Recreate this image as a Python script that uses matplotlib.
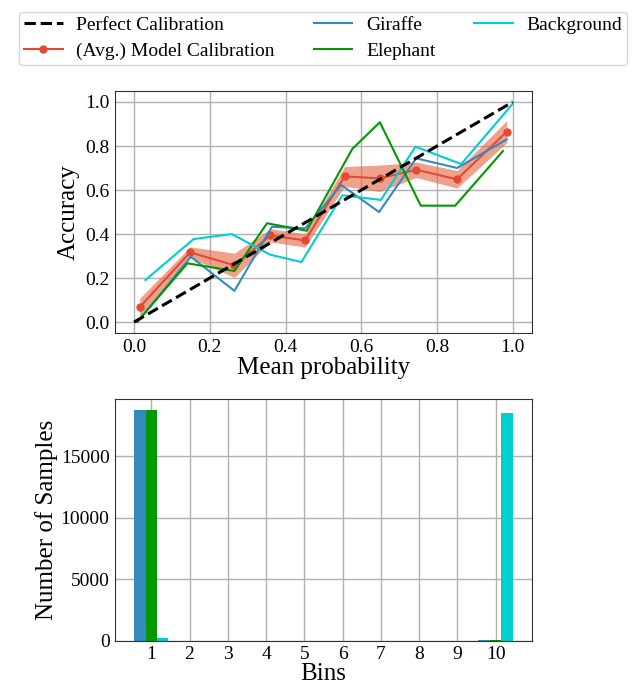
import numpy as np
import matplotlib
matplotlib.use('Agg')
from matplotlib import pyplot as plt

plt.rcParams['font.family'] = ['Liberation Serif', 'DejaVu Serif']

# calibration curves (mean probability, accuracy)
avg_x = [0.015, 0.148, 0.265, 0.36, 0.452, 0.556, 0.649, 0.745, 0.853, 0.984]
avg_y = [0.068, 0.317, 0.258, 0.394, 0.371, 0.662, 0.653, 0.692, 0.649, 0.865]
avg_err = [0.04, 0.025, 0.055, 0.03, 0.03, 0.045, 0.06, 0.035, 0.04, 0.05]

giraffe_x = [0.009, 0.15, 0.265, 0.364, 0.452, 0.547, 0.647, 0.745, 0.853, 0.984]
giraffe_y = [0.0, 0.297, 0.142, 0.433, 0.426, 0.623, 0.50, 0.744, 0.70, 0.83]

elephant_x = [0.009, 0.141, 0.265, 0.351, 0.456, 0.576, 0.649, 0.757, 0.848, 0.974]
elephant_y = [0.003, 0.267, 0.232, 0.449, 0.415, 0.786, 0.908, 0.529, 0.529, 0.777]

background_x = [0.03, 0.157, 0.258, 0.36, 0.442, 0.55, 0.652, 0.743, 0.864, 0.999]
background_y = [0.191, 0.377, 0.40, 0.306, 0.273, 0.576, 0.555, 0.797, 0.718, 0.99]

# samples per bin
bins = np.arange(1, 11)
giraffe_counts = [18750, 12, 8, 6, 5, 5, 6, 8, 12, 80]
elephant_counts = [18750, 12, 8, 6, 5, 5, 6, 8, 12, 80]
background_counts = [250, 10, 8, 6, 5, 5, 6, 8, 15, 18525]

red = '#E24A33'
blue = '#348ABD'
green = '#009900'
cyan = '#00CED1'

fig = plt.figure(figsize=(6.36, 6.84), dpi=100)
ax1 = fig.add_axes([0.181, 0.513, 0.655, 0.354])
ax2 = fig.add_axes([0.181, 0.063, 0.655, 0.354])

for ax in (ax1, ax2):
    ax.set_axisbelow(True)
    ax.grid(True, color='#b0b0b0', linewidth=1)
    for s in ax.spines.values():
        s.set_color('#333333')
    ax.tick_params(labelsize=14, length=0, pad=4)

h_perf, = ax1.plot([0, 1], [0, 1], '--', color='black', linewidth=2.2, label='Perfect Calibration', zorder=5)
lo = np.array(avg_y) - np.array(avg_err)
hi = np.array(avg_y) + np.array(avg_err)
ax1.fill_between(avg_x, lo, hi, color='#E5704F', alpha=0.65, linewidth=0)
h_avg, = ax1.plot(avg_x, avg_y, '-o', color=red, markersize=5, linewidth=1.5, label='(Avg.) Model Calibration')
h_g, = ax1.plot(giraffe_x, giraffe_y, color=blue, linewidth=1.5, label='Giraffe')
h_e, = ax1.plot(elephant_x, elephant_y, color=green, linewidth=1.5, label='Elephant')
h_b, = ax1.plot(background_x, background_y, color=cyan, linewidth=1.5, label='Background')
ax1.set_xlim(-0.05, 1.05)
ax1.set_ylim(-0.05, 1.05)
ax1.set_xticks(np.arange(0, 1.01, 0.2))
ax1.set_yticks(np.arange(0, 1.01, 0.2))
ax1.set_xlabel('Mean probability', fontsize=18, labelpad=1)
ax1.set_ylabel('Accuracy', fontsize=18, labelpad=4)

w = 0.3
ax2.bar(bins - w, giraffe_counts, width=w, color=blue)
ax2.bar(bins, elephant_counts, width=w, color=green)
ax2.bar(bins + w, background_counts, width=w, color=cyan)
ax2.set_xticks(bins)
ax2.set_xlabel('Bins', fontsize=18, labelpad=0)
ax2.set_ylabel('Number of Samples', fontsize=18, labelpad=2)

fig.legend([h_perf, h_avg, h_g, h_e, h_b],
           ['Perfect Calibration', '(Avg.) Model Calibration', 'Giraffe', 'Elephant', 'Background'],
           loc='upper center', bbox_to_anchor=(0.508, 0.983), borderaxespad=0, ncol=3, fontsize=14,
           frameon=True, handlelength=2.0, handletextpad=0.7, columnspacing=2.0,
           labelspacing=0.42, borderpad=0.25)

fig.savefig('out.png', dpi=100)
